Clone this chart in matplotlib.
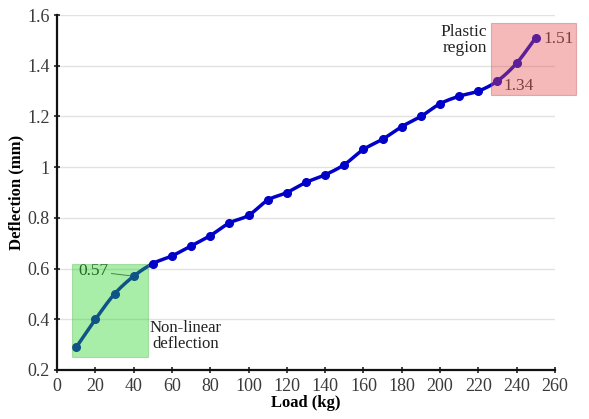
import numpy as np
import matplotlib.pyplot as plt
from matplotlib.patches import Rectangle

plt.rcParams['font.family'] = ['Liberation Serif', 'DejaVu Serif']

load_kg = [10, 20, 30, 40, 50, 60, 70, 80, 90, 100, 110, 120, 130,
           140, 150, 160, 170, 180, 190, 200, 210, 220, 230, 240, 250]
deflection_mm = [0.29, 0.40, 0.50, 0.57, 0.62, 0.65, 0.69, 0.73, 0.78, 0.81,
                 0.87, 0.90, 0.94, 0.97, 1.01, 1.07, 1.11, 1.16, 1.20, 1.25,
                 1.28, 1.30, 1.34, 1.41, 1.51]

x_ticks = list(range(0, 261, 20))
y_ticks = [0.2, 0.4, 0.6, 0.8, 1.0, 1.2, 1.4, 1.6]
y_tick_labels = ['0.2', '0.4', '0.6', '0.8', '1', '1.2', '1.4', '1.6']


def smooth_curve(x, y, steps=12):
    # Catmull-Rom style smoothing, similar to a spreadsheet "smoothed line"
    x = np.asarray(x, float)
    y = np.asarray(y, float)
    px = np.concatenate([[2 * x[0] - x[1]], x, [2 * x[-1] - x[-2]]])
    py = np.concatenate([[2 * y[0] - y[1]], y, [2 * y[-1] - y[-2]]])
    xs, ys = [], []
    t = np.linspace(0, 1, steps, endpoint=False)
    for i in range(1, len(px) - 2):
        for p, out in ((px, xs), (py, ys)):
            p0, p1, p2, p3 = p[i - 1], p[i], p[i + 1], p[i + 2]
            out.extend(0.5 * ((2 * p1) + (-p0 + p2) * t
                              + (2 * p0 - 5 * p1 + 4 * p2 - p3) * t ** 2
                              + (-p0 + 3 * p1 - 3 * p2 + p3) * t ** 3))
    xs.append(x[-1])
    ys.append(y[-1])
    return np.array(xs), np.array(ys)


fig = plt.figure(figsize=(5.89, 4.19), dpi=100)
ax = fig.add_axes([0.097, 0.117, 0.845, 0.847])

sx, sy = smooth_curve(load_kg, deflection_mm)
ax.plot(sx, sy, color='#0000c8', lw=2.5, zorder=3)
ax.plot(load_kg, deflection_mm, 'o', color='#0000c8', ms=5.5, zorder=4)

ax.set_xlim(0, 260)
ax.set_ylim(0.2, 1.6)
ax.set_xticks(x_ticks)
ax.set_yticks(y_ticks)
ax.set_yticklabels(y_tick_labels)
ax.tick_params(axis='both', labelsize=13, direction='inout', length=5,
               width=1.2, colors='#222222', labelcolor='#3a3a3a', pad=3)
ax.grid(axis='y', color='#e2e2e2', lw=1)
ax.set_axisbelow(True)
for side in ('top', 'right'):
    ax.spines[side].set_visible(False)
for side in ('left', 'bottom'):
    ax.spines[side].set_linewidth(1.6)
    ax.spines[side].set_color('#111111')

ax.set_xlabel('Load (kg)', fontsize=12, fontweight='bold', labelpad=0)
ax.set_ylabel('Deflection (mm)', fontsize=12, fontweight='bold', labelpad=2)

# value labels
ax.annotate('0.57', xy=(load_kg[3], deflection_mm[3]), xytext=(19, 0.589),
            fontsize=12.5, color='#222222', va='center', ha='center',
            arrowprops=dict(arrowstyle='-', color='#555555', lw=0.7,
                            shrinkA=0, shrinkB=3), zorder=5)
ax.text(load_kg[22] + 3, deflection_mm[22] - 0.02, '1.34', fontsize=12.5,
        color='#333333', ha='left', va='center', zorder=5)
ax.text(load_kg[24] + 4, deflection_mm[24] - 0.005, '1.51', fontsize=12.5,
        color='#333333', ha='left', va='center', zorder=5)

# highlighted regions, drawn semi-transparent over the curve
ax.add_patch(Rectangle((7.8, 0.25), 39.7, 0.368, facecolor='#26d426',
                       edgecolor='#58b858', lw=0.8, alpha=0.4, zorder=6))
ax.add_patch(Rectangle((226.6, 1.285), 44.4, 0.283, facecolor='#e65050',
                       edgecolor='#c05050', lw=0.8, alpha=0.4, zorder=6,
                       clip_on=False))

ax.text(48.5, 0.333, 'Non-linear\ndeflection', fontsize=12, color='#222222',
        ha='left', va='center', linespacing=1.0, multialignment='center')
ax.text(224.5, 1.50, 'Plastic\nregion', fontsize=12.5, color='#222222',
        ha='right', va='center', linespacing=1.0)

fig.savefig('out.png', dpi=100)
